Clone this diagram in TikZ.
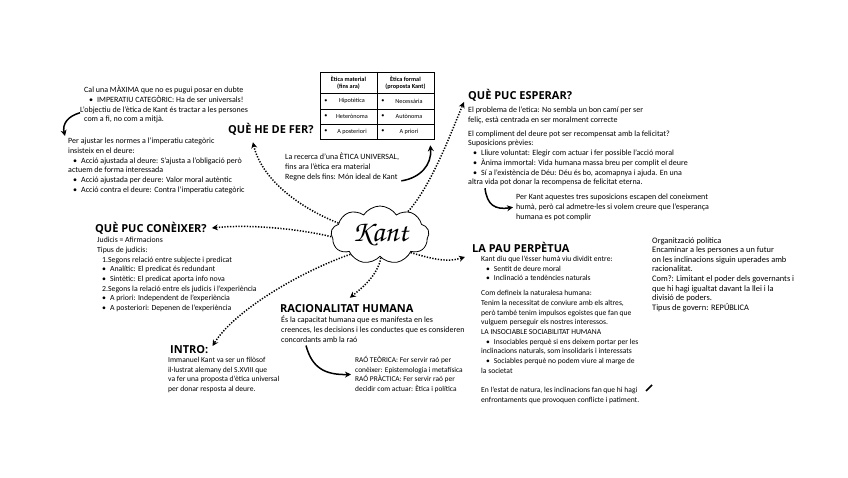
\documentclass[tikz,border=0pt]{standalone}
\usepackage{fontspec}
\setmainfont{Carlito}
\newfontfamily\headfont{Open Sans}
\newfontfamily\kantfont{texgyrechorus-mediumitalic.otf}
\usetikzlibrary{shapes.symbols,arrows.meta,calc}
\newcommand{\bul}{\hspace*{5pt}\textbullet\hspace{4pt}}

\begin{document}
\begin{tikzpicture}[x=1pt, y=-1pt,
  txt/.style={anchor=north west, align=left, inner sep=0pt, font=\fontsize{8}{9.7}\selectfont},
  small/.style={font=\fontsize{7.6}{9.7}\selectfont},
  head/.style={anchor=west, inner sep=0pt, font=\headfont\bfseries\fontsize{11}{13}\selectfont},
  cell/.style={inner sep=0pt, align=center, font=\fontsize{6.2}{7.2}\selectfont},
  dots/.style={line width=1.5pt, dash pattern=on 1.3pt off 1.5pt, -{Stealth[length=6pt,width=6pt]}},
  bent/.style={line width=1.5pt, -{Stealth[length=6pt,width=6pt]}}]

  \fill[white] (0,0) rectangle (848,477);
  \useasboundingbox (0,0) rectangle (848,477);

  % centre
  \node[cloud, draw, cloud puffs=9, cloud puff arc=115, aspect=1.9, line width=0.8pt, fill=white,
        minimum width=98pt, minimum height=58pt, inner sep=1pt] (kant) at (380,235)
        {\kantfont\fontsize{30}{30}\selectfont Kant};

  % headings
  \node[head] (fer) at (228,129) {QUÈ HE DE FER?};
  \node[head] (esperar) at (468,95) {QUÈ PUC ESPERAR?};
  \node[head] (coneixer) at (95,228) {QUÈ PUC CONÈIXER?};
  \node[head] (racional) at (280,309) {RACIONALITAT HUMANA};
  \node[head] (intro) at (170,350) {INTRO:};
  \node[head] (pau) at (472,247) {LA PAU PERPÈTUA};

  % que he de fer
  \node[txt] (maxima) at (80,86) {\hspace*{4pt}Cal una MÀXIMA que no es pugui posar en dubte\\
    \hspace*{4pt}\bul IMPERATIU CATEGÒRIC: Ha de ser universals!\\
    L'objectiu de l'ètica de Kant és tractar a les persones\\
    \hspace*{4pt}com a fi, no com a mitjà.};
  \node[txt] (deure) at (68,138) {Per ajustar les normes a l'imperatiu categòric\\
    insisteix en el deure:\\
    \bul Acció ajustada al deure: S'ajusta a l'obligació però\\
    actuem de forma interessada\\
    \bul Acció ajustada per deure: Valor moral autèntic\\
    \bul Acció contra el deure: Contra l'imperatiu categòric};
  \node[txt] (recerca) at (285,153) {La recerca d'una ÈTICA UNIVERSAL,\\
    fins ara l'ètica era material\\
    Regne dels fins: Món ideal de Kant};

  % taula
  \node[draw, line width=0.6pt, minimum width=114pt, minimum height=67pt, inner sep=0pt] (taula) at (377,105.5) {};
  \draw[line width=0.6pt] (taula.north) -- (taula.south);
  \foreach \y in {93,109,124} \draw[line width=0.6pt] (320,\y) -- (434,\y);
  \node[cell] (mat) at (348.5,82.5) {\bfseries Ètica material\\\bfseries(fins ara)};
  \node[cell] (for) at (405.5,82.5) {\bfseries Ètica formal\\\bfseries(proposta Kant)};
  \foreach \t/\y [count=\i] in {Hipotètica/101, Heterònoma/116.5, A posteriori/131.5}
    {\node[cell] (m\i) at (352,\y) {\t}; \node[cell] at (326,\y) {\textbullet};}
  \foreach \t/\y [count=\i] in {Necessària/101, Autònoma/116.5, A priori/131.5}
    {\node[cell] (f\i) at (409,\y) {\t}; \node[cell] at (383,\y) {\textbullet};}

  % que puc coneixer
  \node[txt, font=\fontsize{7.8}{9.7}\selectfont] (judicis) at (97,237) {Judicis = Afirmacions\\
    Tipus de judicis:\\
    \hspace*{5pt}1.Segons relació entre subjecte i predicat\\
    \bul Analític: El predicat és redundant\\
    \bul Sintètic: El predicat aporta info nova\\
    \hspace*{5pt}2.Segons la relació entre els judicis i l'experiència\\
    \bul A priori: Independent de l'experiència\\
    \bul A posteriori: Depenen de l'experiència};

  % racionalitat
  \node[txt] (capacitat) at (281,316) {És la capacitat humana que es manifesta en les\\
    creences, les decisions i les conductes que es consideren\\
    concordants amb la raó};
  \node[txt, font=\fontsize{7.4}{9.7}\selectfont] (rao) at (355,356) {RAÓ TEÒRICA: Fer servir raó per\\
    conèixer: Epistemologia i metafísica\\
    RAÓ PRÀCTICA: Fer servir raó per\\
    decidir com actuar: Ètica i política};

  % intro
  \node[txt, small] (kanttxt) at (168,357) {Immanuel Kant va ser un filòsof\\
    il·lustrat alemany del S.XVIII que\\
    va fer una proposta d'ètica universal\\
    per donar resposta al deure.};

  % que puc esperar
  \node[txt] (problema) at (468,107) {El problema de l'etica: No sembla un bon camí per ser\\
    feliç, està centrada en ser moralment correcte\\[4pt]
    El compliment del deure pot ser recompensat amb la felicitat?\\
    Suposicions prèvies:\\
    \bul Lliure voluntat: Elegir com actuar i fer possible l'acció moral\\
    \bul Ànima immortal: Vida humana massa breu per complit el deure\\
    \bul Sí a l'existència de Déu: Déu és bo, acomapnya i ajuda. En una\\
    altra vida pot donar la recompensa de felicitat eterna.};
  \node[txt] (suposicions) at (516,194) {Per Kant aquestes tres suposicions escapen del coneixment\\
    humà, però cal admetre-les si volem creure que l'esperança\\
    humana es pot complir};

  % la pau perpetua
  \node[txt, small] (dividit) at (481,256) {Kant diu que l'ésser humà viu dividit entre:\\
    \bul Sentit de deure moral\\
    \bul Inclinació a tendències naturals\\[5pt]
    Com defineix la naturalesa humana:\\
    Tenim la necessitat de conviure amb els altres,\\
    però també tenim impulsos egoistes que fan que\\
    vulguem perseguir els nostres interessos.\\
    LA INSOCIABLE SOCIABILITAT HUMANA\\
    \bul Insociables perquè si ens deixem portar per les\\
    inclinacions naturals, som insolidaris i interessats\\
    \bul Sociables perquè no podem viure al marge de\\
    la societat\\[10pt]
    En l'estat de natura, les inclinacions fan que hi hagi\\
    enfrontaments que provoquen conflicte i patiment.};
  \node[txt, font=\fontsize{8.4}{9.6}\selectfont] (politica) at (652,237) {Organització política\\
    Encaminar a les persones a un futur\\
    on les inclinacions siguin uperades amb\\
    racionalitat.\\
    Com?: Limitant el poder dels governants i\\
    que hi hagi igualtat davant la llei i la\\
    divisió de poders.\\
    Tipus de govern: REPÚBLICA};

  % fletxes puntejades
  \draw[dots] (kant.164) .. controls (300,208) and (262,180) .. ([xshift=-18pt,yshift=-7pt]fer.south);
  \draw[dots] (kant.40) .. controls (432,185) and (452,130) .. ([xshift=-4pt,yshift=-7pt]esperar.west);
  \draw[dots] (kant.182) .. controls (300,229) and (250,224) .. ([xshift=5pt]coneixer.east);
  \draw[dots] (kant.213) .. controls (300,272) and (235,310) .. ([xshift=4pt,yshift=4pt]intro.east);
  \draw[dots] (kant.272) .. controls (378,275) and (362,288) .. ([xshift=3pt,yshift=7pt]racional.north);
  \draw[dots] (kant.-30) .. controls (430,258) and (445,263) .. ([xshift=-16pt,yshift=-1pt]dividit.north west);

  % fletxes
  \draw[bent] ([yshift=-8pt]maxima.west) .. controls (68,116) and (62,124) .. ([xshift=-3pt,yshift=2pt]deure.north west);
  \draw[bent] ([xshift=2pt]recerca.south east) .. controls (420,178) and (432,165) .. ([xshift=-4pt,yshift=-6pt]taula.south east);
  \draw[bent] ([xshift=17pt,yshift=-2pt]problema.south west) .. controls (487,205) and (495,210) .. ([xshift=-3pt]suposicions.west);
  \draw[bent] ([xshift=25pt,yshift=-3pt]capacitat.south west) .. controls (312,368) and (325,375) .. ([xshift=-4pt]rao.west);
  \draw[line width=1.5pt] (646,391) -- (652,385);
\end{tikzpicture}
\end{document}
